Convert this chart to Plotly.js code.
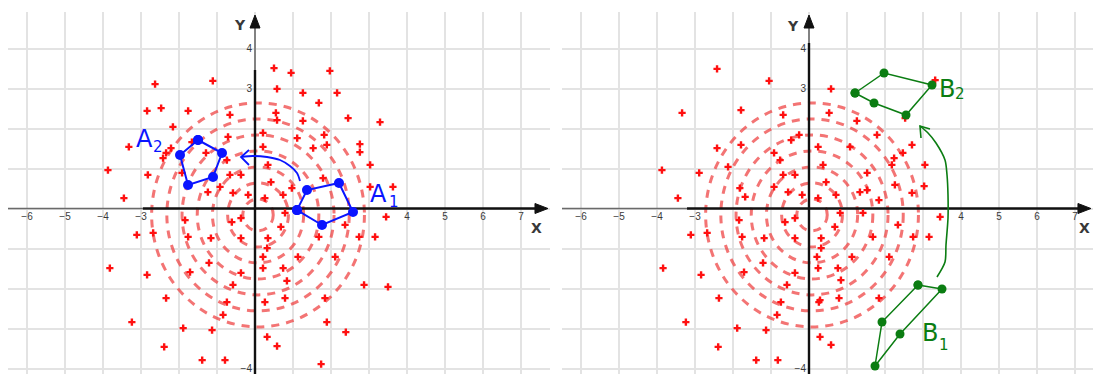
<!DOCTYPE html>
<html>
<head>
<meta charset="utf-8">
<script src="https://cdn.plot.ly/plotly-3.0.1.min.js"></script>
<style>
  html, body { margin: 0; padding: 0; background: #fff; }
  #chart { width: 1093px; height: 374px; }
</style>
</head>
<body>
<div id="chart"></div>
<script>
// ---------- data (data units) ----------
// red "+" points, left panel
const redLeftX = [-2.63,-1.11,0.50,0.58,-2.84,-2.47,-1.76,-0.66,0.55,-2.16,-0.71,0.21,-3.32,-2.21,0.21,-2.34,-2.42,-1.29,-0.74,-3.87,-2.82,-0.66,-0.37,-1.92,0.95,1.97,1.26,2.16,1.68,0.58,1.26,1.82,1.11,-1.66,1.53,1.89,0.34,1.79,0.42,-1.24,-0.92,-0.58,-0.18,0.74,0.97,0.26,2.45,3.29,2.76,2.76,3.03,3.63,3.03,0.79,3.45,0.68,2.37,1.68,2.74,3.16,1.13,2.11,0.74,0.84,2.87,3.50,0.79,1.84,1.89,2.39,0.58,1.74,-1.84,-0.61,-0.37,-1.76,-1.16,-0.37,0.34,0.32,0.21,-1.21,0.21,-1.71,-0.37,-0.58,-0.74,0.26,-0.84,-1.89,-1.13,0.32,-1.39,-0.79,-3.45,-3.11,-2.68,-3.82,-2.84,-2.34,-3.24,-2.39];
const redLeftY = [3.11,3.19,3.51,2.99,2.44,2.51,2.44,2.34,2.39,2.04,1.79,1.89,1.54,1.51,1.54,1.39,1.26,1.39,1.21,0.96,0.84,0.84,0.84,0.89,3.39,3.44,2.89,2.89,2.64,2.21,2.19,1.84,1.76,1.66,1.51,1.59,1.09,0.76,0.66,0.41,0.54,0.39,0.34,0.34,0.51,0.26,2.26,2.16,1.61,1.41,1.09,0.54,0.54,-0.11,-0.21,-0.46,-0.41,-0.71,-0.71,-0.71,-1.21,-1.21,-1.49,-1.81,-1.91,-1.96,-2.24,-2.24,-2.84,-3.09,-3.44,-3.89,-0.29,-0.34,-0.24,-0.71,-0.74,-0.74,-0.74,-0.99,-1.21,-1.36,-1.49,-1.59,-1.61,-1.91,-2.34,-2.34,-2.66,-2.99,-3.04,-3.21,-3.79,-3.79,0.26,-0.66,-0.61,-1.49,-1.66,-2.24,-2.84,-3.46];
// red "+" points, right panel
const redRightX = [-2.42,-1.05,-3.34,-1.79,-0.68,-0.26,-2.42,-1.79,-0.47,0.24,-0.92,-0.76,-2.13,-3.87,-2.89,-0.68,-0.37,-0.92,0.37,0.58,0.53,1.26,1.79,2.18,0.45,1.53,-1.82,-0.55,-0.18,0.24,0.71,1.34,1.53,1.84,-1.68,2.71,1.08,2.24,2.47,3.05,2.26,3.03,2.53,3.32,2.71,0.82,1.42,3.45,0.68,2.34,0.32,1.68,2.74,3.16,1.13,2.11,0.24,0.76,0.84,0.29,0.79,1.84,0.29,0.58,-1.84,-0.63,-0.37,-1.76,-1.18,-0.37,0.32,0.21,-1.21,-1.71,-0.37,-0.58,-0.74,0.26,-0.84,-1.89,-1.13,-1.39,-0.82,-3.45,-3.11,-2.68,-3.84,-2.84,-2.37,-3.24,-2.39];
const redRightY = [3.49,3.19,2.39,2.46,2.34,1.84,1.51,1.59,1.71,1.54,1.39,1.21,1.04,0.96,0.89,0.84,0.84,0.54,1.09,2.99,2.39,2.19,1.84,1.09,0.66,0.89,0.51,0.41,0.34,0.26,0.34,0.41,0.46,0.21,0.29,1.59,1.54,1.26,1.39,1.09,0.59,0.56,2.26,3.21,0.39,-0.11,-0.11,-0.21,-0.46,-0.41,-0.74,-0.71,-0.71,-0.71,-1.21,-1.21,-1.49,-1.49,-1.79,-2.29,-2.24,-2.24,-3.21,-3.41,-0.29,-0.34,-0.24,-0.71,-0.74,-0.74,-0.99,-1.21,-1.36,-1.59,-1.61,-1.91,-2.34,-2.34,-2.66,-2.99,-3.04,-3.79,-3.79,0.26,-0.66,-0.61,-1.49,-1.66,-2.24,-2.84,-3.46];

// concentric dashed rings (same in both panels)
const ringRadii = [2.8, 2.4, 2.0, 1.6, 1.2, 0.8, 0.4];
const ringCenter = [0.08, -0.16];

// polygons
const A1x = [1.105, 1.368, 2.21, 2.579, 1.763];
const A1y = [-0.04, 0.4625, 0.6375, -0.0875, -0.4125];
const A2x = [-1.5, -0.868, -1.105, -1.763, -1.974];
const A2y = [1.7125, 1.3875, 0.7875, 0.5875, 1.3375];
const B1x = [2.868, 3.5, 2.395, 1.737, 1.921];
const B1y = [-1.9125, -2.0125, -3.1375, -3.9375, -2.8375];
const B2x = [1.211, 1.974, 3.237, 2.553, 1.711];
const B2y = [2.8875, 3.3875, 3.0875, 2.3375, 2.6375];

// curved arrows (path points) and their open heads
const arrowAX = [1.184, 1.105, 0.921, 0.658, 0.316, -0.053, -0.368];
const arrowAY = [0.6875, 0.8875, 1.0625, 1.2125, 1.2875, 1.3125, 1.2875];
const arrowAHeadX = [-0.158, -0.368, -0.158];
const arrowAHeadY = [1.4625, 1.2875, 1.0875];
const arrowBX = [3.368, 3.579, 3.605, 3.658, 3.658, 3.632, 3.579, 3.342, 3.132, 2.921];
const arrowBY = [-1.7125, -1.3375, -0.9125, -0.2375, 0.3375, 0.8375, 1.2125, 1.6375, 1.8875, 2.0625];
const arrowBHeadX = [3.184, 2.921, 2.947];
const arrowBHeadY = [1.987, 2.0625, 1.7625];

// polygon names: letter and subscript
const polyNames = ['A', 'A', 'B', 'B'];
const polySubs = ['1', '2', '2', '1'];

// ticks (labels that are visible in the picture)
const xTickVals = [-6,-5,-4,-3,4,5,6,7];
const xTickText = ['−6','−5','−4','−3','4','5','6','7'];
const yTickVals = [-4,3,4];
const yTickText = ['−4','3','4'];

// ---------- styling ----------
const RED = '#ff1010';
const BLUE = '#0a14ff';
const GREEN = '#0b7d12';
const close = a => a.concat([a[0]]);

function redTrace(x, y, xa, ya) {
  return { type:'scatter', mode:'markers', x, y, xaxis:xa, yaxis:ya, hoverinfo:'skip',
    marker:{ symbol:'cross', size:6, color:RED, line:{width:0} } };
}
function polyTrace(x, y, xa, ya, color, msize, lw) {
  return { type:'scatter', mode:'lines+markers', x:close(x), y:close(y), xaxis:xa, yaxis:ya, hoverinfo:'skip',
    line:{ color, width:lw }, marker:{ size:msize, color } };
}
function lineTrace(x, y, xa, ya, color, lw, shape) {
  return { type:'scatter', mode:'lines', x, y, xaxis:xa, yaxis:ya, hoverinfo:'skip',
    line:{ color, width:lw, shape: shape || 'linear', smoothing:0.8 } };
}

const traces = [
  redTrace(redLeftX, redLeftY, 'x', 'y'),
  redTrace(redRightX, redRightY, 'x2', 'y2'),
  lineTrace(arrowAX, arrowAY, 'x', 'y', BLUE, 1.8, 'spline'),
  lineTrace(arrowAHeadX, arrowAHeadY, 'x', 'y', BLUE, 1.8),
  polyTrace(A1x, A1y, 'x', 'y', BLUE, 10, 2),
  polyTrace(A2x, A2y, 'x', 'y', BLUE, 10, 2),
  lineTrace(arrowBX, arrowBY, 'x2', 'y2', GREEN, 1.6, 'spline'),
  lineTrace(arrowBHeadX, arrowBHeadY, 'x2', 'y2', GREEN, 1.6),
  polyTrace(B1x, B1y, 'x2', 'y2', GREEN, 9, 1.5),
  polyTrace(B2x, B2y, 'x2', 'y2', GREEN, 9, 1.5)
];

// rings as shapes
const shapes = [];
['x','x2'].forEach((xr, i) => {
  const yr = i === 0 ? 'y' : 'y2';
  ringRadii.forEach(r => {
    shapes.push({ type:'circle', xref:xr, yref:yr, layer:'between',
      x0: ringCenter[0]-r, x1: ringCenter[0]+r, y0: ringCenter[1]-r, y1: ringCenter[1]+r,
      line:{ color:'rgba(238,62,62,0.72)', width:3, dash:'8px,7px' } });
  });
});

// axes (drawn lines + arrowheads)
function axisLines(xr, yr, xmin, grayEndX, xTip, yTop, grayEndY, ymin) {
  const out = [];
  out.push({ type:'line', xref:xr, yref:yr, layer:'between', x0:xmin, x1:grayEndX, y0:0, y1:0, line:{color:'#6a6a6a', width:1.6} });
  out.push({ type:'line', xref:xr, yref:yr, layer:'between', x0:grayEndX, x1:xTip-0.25, y0:0, y1:0, line:{color:'#111', width:2.4} });
  out.push({ type:'path', xref:xr, yref:yr, layer:'between', xsizemode:'pixel', ysizemode:'pixel', xanchor:xTip, yanchor:0,
    path:'M0,0 L-13,5 L-13,-5 Z', fillcolor:'#111', line:{color:'#111', width:1} });
  out.push({ type:'line', xref:xr, yref:yr, layer:'between', x0:0, x1:0, y0:yTop-0.3, y1:grayEndY, line:{color:'#6a6a6a', width:1.6} });
  out.push({ type:'line', xref:xr, yref:yr, layer:'between', x0:0, x1:0, y0:grayEndY, y1:ymin, line:{color:'#111', width:2.4} });
  out.push({ type:'path', xref:xr, yref:yr, layer:'between', xsizemode:'pixel', ysizemode:'pixel', xanchor:0, yanchor:yTop,
    path:'M0,0 L-5,-13 L5,-13 Z', fillcolor:'#111', line:{color:'#111', width:1} });
  return out;
}
shapes.push(...axisLines('x','y', -6.5, -2.95, 7.71, 4.8375, 3.4625, -4.14));
shapes.push(...axisLines('x2','y2', -6.5, -3.21, 7.42, 4.8375, 4.1375, -4.14));

const bigFont = { family:'DejaVu Sans, Verdana, sans-serif', size:24 };
const subFont = { family:'DejaVu Sans, Verdana, sans-serif', size:15 };
const axTitleFont = { family:'DejaVu Sans, sans-serif', size:14, color:'#383838' };
// label placement: [xref, yref, letter x, letter y, sub x, sub y, color]
const labelPlace = [
  ['x','y', 3.263, 0.36, 3.658, 0.16, BLUE],
  ['x','y', -2.895, 1.74, -2.553, 1.54, BLUE],
  ['x2','y2', 3.632, 2.99, 3.974, 2.86, GREEN],
  ['x2','y2', 3.184, -3.11, 3.553, -3.41, GREEN]
];
const annotations = [];
labelPlace.forEach((p, i) => {
  annotations.push({ xref:p[0], yref:p[1], x:p[2], y:p[3], text:polyNames[i], showarrow:false,
    xanchor:'center', yanchor:'middle', font:Object.assign({color:p[6]}, bigFont) });
  annotations.push({ xref:p[0], yref:p[1], x:p[4], y:p[5], text:polySubs[i], showarrow:false,
    xanchor:'center', yanchor:'middle', font:Object.assign({color:p[6]}, subFont) });
});
annotations.push(
  { xref:'x', yref:'y', x:7.42, y:-0.49, text:'<b>X</b>', showarrow:false, font:axTitleFont },
  { xref:'x', yref:'y', x:-0.39, y:4.59, text:'<b>Y</b>', showarrow:false, font:axTitleFont },
  { xref:'x2', yref:'y2', x:7.26, y:-0.49, text:'<b>X</b>', showarrow:false, font:axTitleFont },
  { xref:'x2', yref:'y2', x:-0.42, y:4.56, text:'<b>Y</b>', showarrow:false, font:axTitleFont }
);

const tickFont = { family:'Liberation Sans, Arial, sans-serif', size:10, color:'#3a3a3a' };
const gridStyle = {
  showgrid:true, gridcolor:'#e3e3e3', gridwidth:2, zeroline:false, showline:false, ticks:'',
  fixedrange:true, tickfont:tickFont, automargin:false,
  minor:{ tickmode:'linear', tick0:0, dtick:1, showgrid:true, gridcolor:'#e3e3e3', gridwidth:2, ticks:'' }
};
const xPos = 1 - 208.5/374;
const yDom = [0, 1 - 12/374];
const yRange = [-4.1375, 4.9125];

const layout = {
  width:1093, height:374, margin:{l:0, r:0, t:0, b:0},
  paper_bgcolor:'#ffffff', plot_bgcolor:'#ffffff', showlegend:false,
  xaxis: Object.assign({ domain:[8/1093, 550/1093], range:[-6.5, 7.7632], anchor:'free', position:xPos,
    tickmode:'array', tickvals:xTickVals, ticktext:xTickText }, gridStyle),
  yaxis: Object.assign({ domain:yDom, range:yRange, anchor:'free', position:255/1093,
    tickmode:'array', tickvals:yTickVals, ticktext:yTickText, ticklabelstandoff:3 }, gridStyle),
  xaxis2: Object.assign({ domain:[562/1093, 1], range:[-6.5, 7.4737], anchor:'free', position:xPos,
    tickmode:'array', tickvals:xTickVals, ticktext:xTickText }, gridStyle),
  yaxis2: Object.assign({ domain:yDom, range:yRange, anchor:'free', position:809/1093,
    tickmode:'array', tickvals:yTickVals, ticktext:yTickText, ticklabelstandoff:3 }, gridStyle),
  shapes, annotations
};

Plotly.newPlot('chart', traces, layout, { displayModeBar:false, staticPlot:true });
</script>
</body>
</html>
